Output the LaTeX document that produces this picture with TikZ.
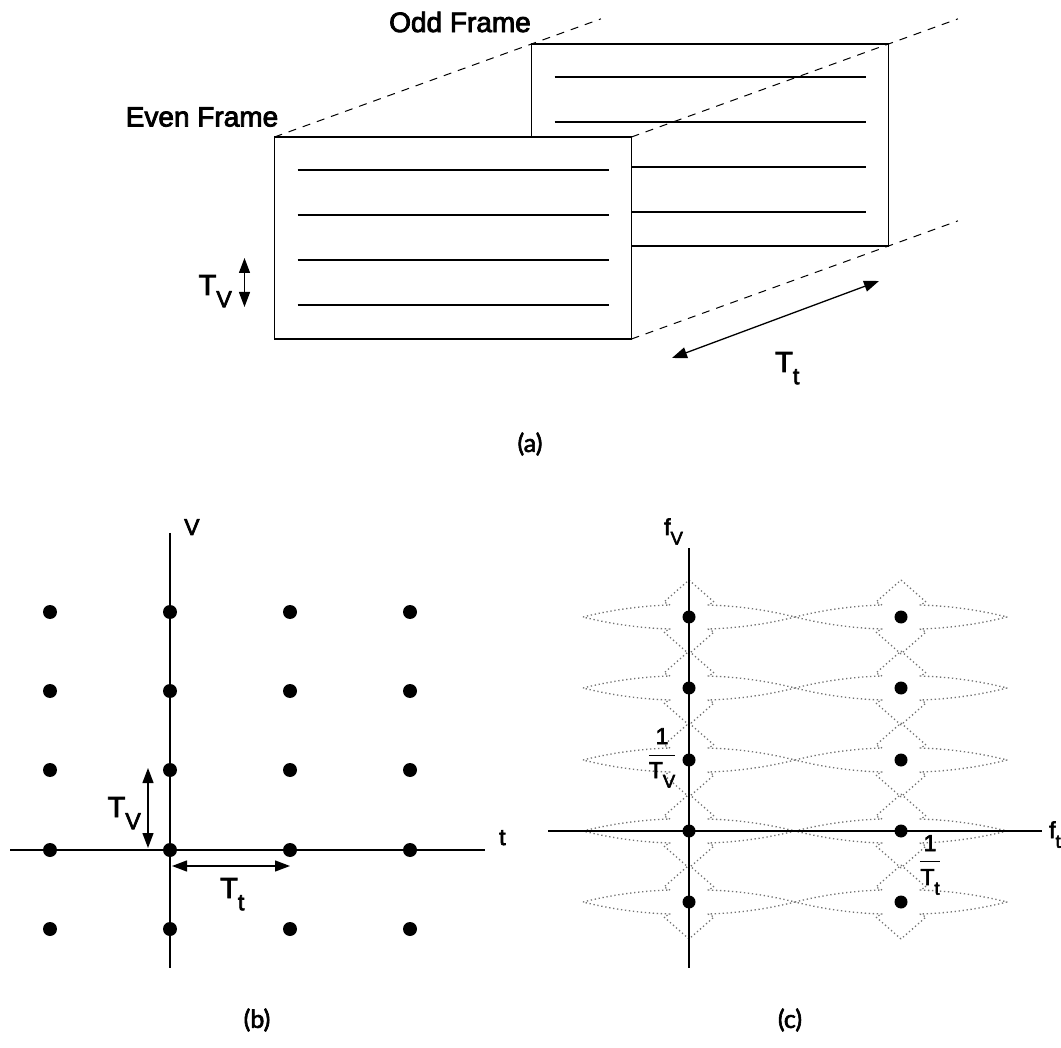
\documentclass[tikz,border=0pt]{standalone}
\usepackage{fontspec}
\setmainfont{Liberation Sans}
\newfontfamily\heavy{Liberation Sans}[FakeBold=3]
\newfontfamily\panelfont{Lato}[FakeBold=2.5]
\usepackage{graphicx}
\usetikzlibrary{arrows.meta, positioning, calc}

% lowered, smaller index letter (T_V, f_t, ...)
\newcommand{\low}[1]{\raisebox{-0.42em}{\scalebox{0.8}{#1}}}

\begin{document}
\begin{tikzpicture}[x=1pt, y=-1pt,
  field/.style={draw, fill=white, line width=1.4pt, minimum width=357pt, minimum height=202pt, inner sep=0pt, outer sep=0pt},
  scanline/.style={line width=1.4pt},
  guideline/.style={line width=1pt, dash pattern=on 8pt off 7pt},
  dimarrow/.style={line width=1.3pt, {Triangle[length=15pt,width=11pt]}-{Triangle[length=15pt,width=11pt]}},
  axisline/.style={line width=1.4pt},
  latt/.style={circle, fill=black, inner sep=0pt, minimum size=14pt},
  replica/.style={black!55, line width=1.3pt, dash pattern=on 1.3pt off 2.7pt, line join=round},
  framelabel/.style={inner sep=0pt, font=\heavy\fontsize{28}{32}\selectfont},
  sym/.style={inner sep=0pt, font=\heavy\fontsize{29}{32}\selectfont},
  smallsym/.style={inner sep=0pt, font=\heavy\fontsize{23}{26}\selectfont},
  panel/.style={inner sep=0pt, font=\panelfont\fontsize{25}{28}\selectfont}
]
  \fill[white] (0,0) rectangle (1061,1048);
  \useasboundingbox (0,0) rectangle (1061,1048);

  % (a) two interlaced fields
  \node[field] (odd) at (710,145) {};
  \foreach \k in {33,78,123,168}
    \draw[scanline] ($(odd.north west)+(23,\k)$) -- ($(odd.north east)+(-23,\k)$);
  \node[field] (even) at (453,238) {};
  \foreach \k in {33,78,123,168}
    \draw[scanline] ($(even.north west)+(23,\k)$) -- ($(even.north east)+(-23,\k)$);

  \coordinate (tl) at ($(even.north west)!1.27!(odd.north west)$);
  \coordinate (tr) at ($(even.north east)!1.27!(odd.north east)$);
  \coordinate (br) at ($(even.south east)!1.27!(odd.south east)$);
  \draw[guideline] (even.north west) -- (odd.north west) -- (tl);
  \draw[guideline] (even.north east) -- (odd.north east) -- (tr);
  \draw[guideline] (even.south east) -- (odd.south east) -- (br);

  \node[framelabel] (oddname) at (460,22) {Odd Frame};
  \node[framelabel] (evenname) at (202,117) {Even Frame};

  \coordinate (tvtop) at ($(even.north west)+(-30,121)$);
  \coordinate (tvbot) at ($(even.north west)+(-30,170)$);
  \draw[dimarrow] (tvtop) -- (tvbot);
  \node[sym, anchor=base east] (tvname) at (232,295) {T\low{V}};

  \coordinate (ttlo) at (672,358);
  \coordinate (tthi) at (879,281);
  \draw[dimarrow] (ttlo) -- (tthi);
  \node[sym, anchor=base west] (ttname) at (775,372) {T\low{t}};

  \node[panel] (capa) at (530,444) {(a)};

  % (b) sampling lattice
  \draw[axisline] (170,533) -- (170,968);
  \draw[axisline] (10,850) -- (485,850);
  \foreach \i/\x in {0/50,1/170,2/290,3/410}
    \foreach \j/\y in {0/612,1/691,2/770,3/850,4/929}
      \node[latt] (b-\i-\j) at (\x,\y) {};
  \node[smallsym, anchor=base west] (vname) at (184,535) {V};
  \node[smallsym, anchor=base west] (tname) at (499,845) {t};

  \coordinate (bvtop) at ($(b-1-2.center)+(-22,-2)$);
  \coordinate (bvbot) at ($(b-1-3.center)+(-22,-2)$);
  \draw[dimarrow] (bvtop) -- (bvbot);
  \node[sym, anchor=base east] (btv) at (141,817) {T\low{V}};

  \coordinate (btlo) at ($(b-1-3.center)+(2,16)$);
  \coordinate (bthi) at ($(b-2-3.center)+(0,16)$);
  \draw[dimarrow] (btlo) -- (bthi);
  \node[sym, anchor=base west] (btt) at (220,898) {T\low{t}};

  \node[panel] (capb) at (257,1020) {(b)};

  % (c) spectrum replicas
  \foreach \cx in {689,901}
    \foreach \cy in {617,688,760,831,902}
      \draw[replica, shift={(\cx,\cy)}]
        (-106,0) .. controls (-78,-7) and (-50,-11) .. (-19,-12) -- (-25,-15) -- (0,-37)
        -- (25,-15) -- (19,-12) .. controls (50,-11) and (78,-7) .. (106,0)
        .. controls (78,7) and (50,11) .. (19,12) -- (25,15) -- (0,37)
        -- (-25,15) -- (-19,12) .. controls (-50,11) and (-78,7) .. cycle;
  \draw[axisline] (689,548) -- (689,968);
  \draw[axisline] (548,831) -- (1042,831);
  \foreach \i/\x in {0/689,1/901}
    \foreach \j/\y in {0/617,1/688,2/760,3/831,4/902}
      \node[latt, minimum size=13pt] (c-\i-\j) at (\x,\y) {};
  \node[smallsym, anchor=base west] (fvname) at (664,535) {f\low{V}};
  \node[smallsym, anchor=base west] (ftname) at (1049,838) {f\low{t}};

  \node[smallsym] (invtv) at (662,758) {$\displaystyle\frac{\mbox{\,1\,}}{\mbox{T\low{V}}}$};
  \node[smallsym] (invtt) at (930,865) {$\displaystyle\frac{\mbox{\,1\,}}{\mbox{T\low{t}}}$};

  \node[panel] (capc) at (790,1020) {(c)};
\end{tikzpicture}
\end{document}
